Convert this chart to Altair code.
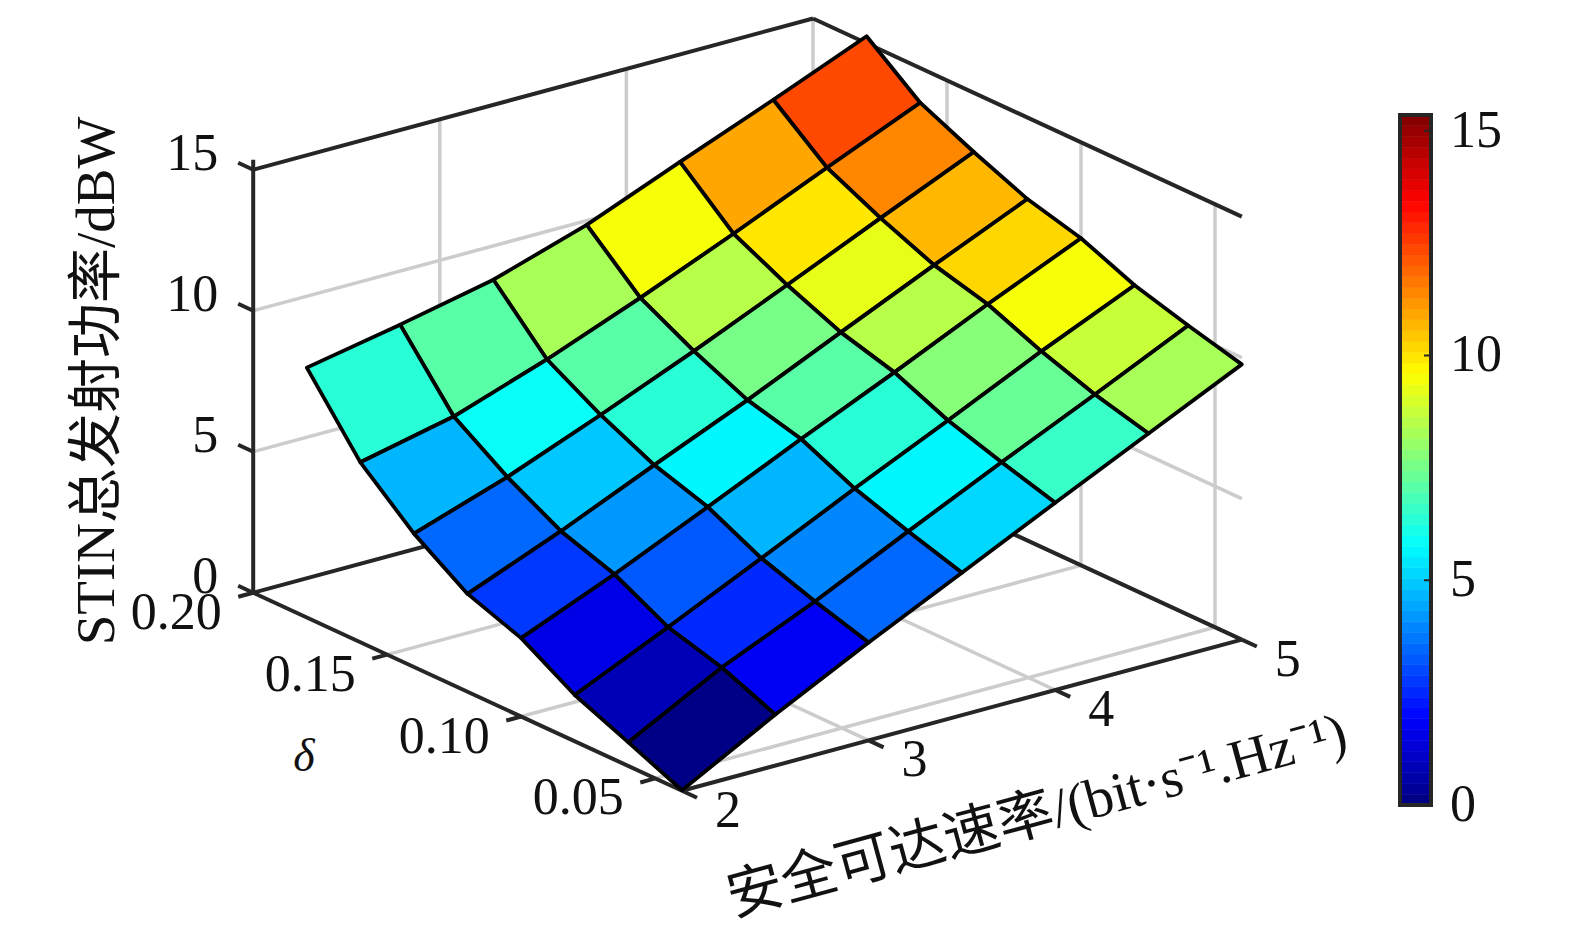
import altair as alt

# ---- data ----
RATES = [2.0, 2.5, 3.0, 3.5, 4.0, 4.5, 5.0]
DELTAS = [0.04, 0.06, 0.08, 0.10, 0.12, 0.14, 0.16, 0.18]
Z_D04 = [0.02, 1.81, 3.47, 5.05, 6.64, 8.20, 9.76]
Z_D06 = [0.84, 2.60, 4.05, 5.64, 7.20, 8.71, 10.26]
Z_D08 = [1.64, 3.15, 4.70, 6.28, 7.80, 9.36, 10.81]
Z_D10 = [2.78, 4.15, 5.64, 7.16, 8.63, 10.15, 11.60]
Z_D12 = [3.47, 4.80, 6.25, 7.66, 9.17, 10.66, 12.11]
Z_D14 = [4.73, 5.84, 7.15, 8.52, 9.97, 11.45, 12.90]
Z_D16 = [6.38, 7.11, 8.24, 9.53, 10.91, 12.36, 13.77]
Z_D18 = [8.86, 9.49, 10.19, 11.24, 12.58, 13.89, 15.25]
Z_ROWS = [Z_D04, Z_D06, Z_D08, Z_D10, Z_D12, Z_D14, Z_D16, Z_D18]

RATE_TICKS = [2, 3, 4, 5]
DELTA_TICKS = [0.05, 0.10, 0.15, 0.20]
DELTA_LABELS = ["0.05", "0.10", "0.15", "0.20"]
Z_TICKS = [0, 5, 10, 15]
CB_MAX = 15.35
N_LEVELS = 64

Z_TITLE = "STIN总发射功率/dBW"
X_TITLE = "安全可达速率/(bit·s⁻¹.Hz⁻¹)"
Y_TITLE = "δ"

W, H = 1555, 917
FONT = "Liberation Serif, Noto Sans CJK SC"
DARK = "#262626"
GRID = "#cccccc"


# orthographic view of the box: rate 2..5, delta 0.04..0.20, z 0..15
def proj(rate, delta, z):
    px = 682 - 8 + (rate - 2) * 186.6 - (delta - 0.04) * 2680
    py = 790.8 - 8 - (rate - 2) * 50.4 - (delta - 0.04) * 1238 - z * 28.2
    return px, py


def seg(a, b):
    (x, y), (x2, y2) = proj(*a), proj(*b)
    return {"x": x, "y": y, "x2": x2, "y2": y2}


def jet(t):
    def ch(v):
        return max(0.0, min(1.0, 1.5 - abs(4 * t - v)))
    return "#%02x%02x%02x" % tuple(round(255 * ch(v)) for v in (3, 2, 1))


JET = [jet((i + 0.5) / N_LEVELS) for i in range(N_LEVELS)]

D0, D1, R0, R1, ZT = 0.04, 0.20, 2, 5, 15

grid_rows = []
for r in RATE_TICKS[1:]:
    grid_rows.append(seg((r, D0, 0), (r, D1, 0)))
    grid_rows.append(seg((r, D1, 0), (r, D1, ZT)))
for d in DELTA_TICKS[:3]:
    grid_rows.append(seg((R0, d, 0), (R1, d, 0)))
    grid_rows.append(seg((R1, d, 0), (R1, d, ZT)))
for z in Z_TICKS[1:3]:
    grid_rows.append(seg((R0, D1, z), (R1, D1, z)))
    grid_rows.append(seg((R1, D1, z), (R1, D0, z)))

box_rows = [
    seg((R0, D1, 0), (R0, D0, 0)),
    seg((R0, D0, 0), (R1, D0, 0)),
    seg((R0, D1, 0), (R1, D1, 0)),
    seg((R1, D1, 0), (R1, D0, 0)),
    seg((R0, D1, 0), (R0, D1, CB_MAX)),
    seg((R0, D1, ZT), (R1, D1, ZT)),
    seg((R1, D1, ZT), (R1, D0, ZT)),
]
TICK_R = 0.08   # tick length along the rate axis
TICK_D = 0.0056  # tick length along the delta axis
for r in RATE_TICKS:
    box_rows.append(seg((r, D0, 0), (r, D0 - TICK_D, 0)))
for d in DELTA_TICKS:
    box_rows.append(seg((R0, d, 0), (R0 - TICK_R, d, 0)))
for z in Z_TICKS:
    box_rows.append(seg((R0, D1, z), (R0, D1 + TICK_D, z)))

features = []
for j in range(len(DELTAS) - 2, -1, -1):
    for i in range(len(RATES) - 2, -1, -1):
        corners = [(i, j), (i + 1, j), (i + 1, j + 1), (i, j + 1), (i, j)]
        ring = [list(proj(RATES[a], DELTAS[b], Z_ROWS[b][a])) for a, b in corners]
        features.append({
            "type": "Feature",
            "properties": {"value": Z_ROWS[j][i]},
            "geometry": {"type": "Polygon", "coordinates": [ring]},
        })

x_px = alt.Scale(domain=[0, W], range=[0, W])
y_px = alt.Scale(domain=[0, H], range=[0, H])
color_scale = alt.Scale(type="quantize", domain=[0, CB_MAX], range=JET)
cb_y = alt.Scale(domain=[0, CB_MAX], range=[805 - 8, 115 - 8])

X = alt.X("x:Q", scale=x_px, axis=None)
Y = alt.Y("y:Q", scale=y_px, axis=None)


def rules(rows, color, width):
    return alt.Chart(alt.Data(values=rows)).mark_rule(
        color=color, strokeWidth=width, strokeCap="butt"
    ).encode(x=X, y=Y, x2=alt.X2("x2:Q"), y2=alt.Y2("y2:Q"))


def texts(rows, size=52, align="center", angle=0, style="normal"):
    return alt.Chart(alt.Data(values=rows)).mark_text(
        font=FONT, fontSize=size, align=align, baseline="middle", angle=angle,
        color="#111111", fontStyle=style,
    ).encode(x=X, y=Y, text="t:N")


def shifted(p, dx, dy, t):
    return {"x": p[0] + dx, "y": p[1] + dy, "t": t}


surface = alt.Chart(alt.Data(values=features)).mark_geoshape(
    stroke="#000000", strokeWidth=3.8, strokeJoin="round"
).encode(
    color=alt.Color("properties.value:Q", scale=color_scale, legend=None)
).project(type="identity", scale=1, translate=[0, 0])

z_labels = texts([shifted(proj(R0, D1, z), -35, -16, str(z)) for z in Z_TICKS], align="right")
r_labels = texts([shifted(proj(r, D0, 0), 46, 20, str(r)) for r in RATE_TICKS])
d_labels = texts([shifted(proj(R0, d, 0), -77, 20, s) for d, s in zip(DELTA_TICKS, DELTA_LABELS)])
z_title = texts([{"x": 97 - 8, "y": 381 - 8, "t": Z_TITLE}], size=55, angle=270)
x_title = texts([{"x": 1037 - 8, "y": 816 - 8, "t": X_TITLE}], size=56, angle=344.8)
y_title = texts([{"x": 304 - 8, "y": 757 - 8, "t": Y_TITLE}], size=46, style="italic")

cb_rows = [
    {"lo": CB_MAX * k / N_LEVELS, "hi": CB_MAX * (k + 1) / N_LEVELS,
     "lv": CB_MAX * (k + 0.5) / N_LEVELS, "xa": 1400 - 8, "xb": 1431 - 8}
    for k in range(N_LEVELS)
]
cb_x = alt.X("xa:Q", scale=x_px, axis=None)
cb_cells = alt.Chart(alt.Data(values=cb_rows)).mark_rect(strokeWidth=0.6).encode(
    x=cb_x, x2=alt.X2("xb:Q"),
    y=alt.Y("lo:Q", scale=cb_y, axis=None), y2=alt.Y2("hi:Q"),
    color=alt.Color("lv:Q", scale=color_scale, legend=None),
    stroke=alt.Stroke("lv:Q", scale=color_scale, legend=None),
)
cb_frame = alt.Chart(alt.Data(values=[{"lo": 0, "hi": CB_MAX, "xa": 1400 - 8, "xb": 1431 - 8}])).mark_rect(
    fillOpacity=0, stroke=DARK, strokeWidth=4
).encode(
    x=cb_x, x2=alt.X2("xb:Q"),
    y=alt.Y("lo:Q", scale=cb_y, axis=None), y2=alt.Y2("hi:Q"),
)
cb_ticks = alt.Chart(alt.Data(values=[{"v": v, "xa": 1424 - 8, "xb": 1431 - 8} for v in Z_TICKS])).mark_rule(
    color=DARK, strokeWidth=2
).encode(x=cb_x, x2=alt.X2("xb:Q"), y=alt.Y("v:Q", scale=cb_y, axis=None))
cb_labels = alt.Chart(alt.Data(values=[{"v": v, "xa": 1450 - 8, "t": str(v)} for v in Z_TICKS])).mark_text(
    font=FONT, fontSize=52, align="left", baseline="middle", color="#111111"
).encode(x=cb_x, y=alt.Y("v:Q", scale=cb_y, axis=None), text="t:N")

chart = alt.layer(
    rules(grid_rows, GRID, 3.5),
    rules(box_rows, DARK, 4),
    surface,
    z_labels, r_labels, d_labels, z_title, x_title, y_title,
    cb_cells, cb_frame, cb_ticks, cb_labels,
).resolve_scale(y="independent").properties(
    width=W, height=H, padding=0, autosize=alt.AutoSizeParams(type="none")
).configure_view(stroke=None)

chart.save("out.html", embed_options={"renderer": "svg", "actions": False})
